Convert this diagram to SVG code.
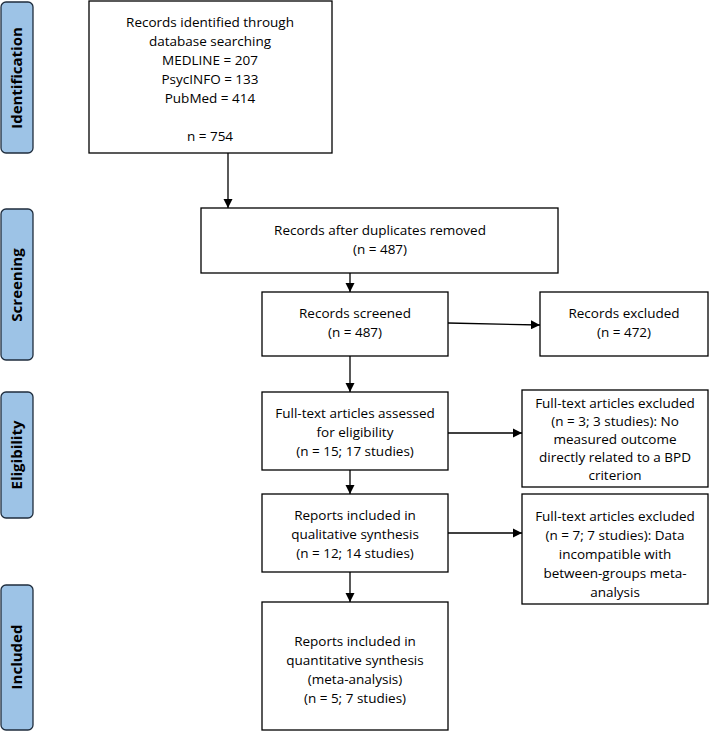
<svg xmlns="http://www.w3.org/2000/svg" width="710" height="732" viewBox="0 0 710 732">
<defs>
<style>
.b{fill:#fff;stroke:#000;stroke-width:1.3}
.s{fill:#9dc3e6;stroke:#1f2d3d;stroke-width:1.3}
text{font-family:"Open Sans","Liberation Sans",sans-serif;font-size:13.5px;fill:#000;text-anchor:middle}
.v{font-weight:bold;font-size:15px}
.c{stroke:#000;stroke-width:1.3;fill:none;marker-end:url(#a)}
</style>
<marker id="a" viewBox="0 0 10 10" refX="10" refY="5" markerWidth="7" markerHeight="7" orient="auto"><path d="M0,0L10,5L0,10z" fill="#000"/></marker>
</defs>
<rect width="710" height="732" fill="#fff"/>
<g id="stage-identification"><rect class="s" x="1" y="2" width="32" height="151" rx="5"/><text class="v" transform="translate(22,78) rotate(-90)">Identification</text></g>
<g id="stage-screening"><rect class="s" x="1" y="209" width="32" height="151" rx="5"/><text class="v" transform="translate(22,285) rotate(-90)">Screening</text></g>
<g id="stage-eligibility"><rect class="s" x="1" y="392" width="32" height="126" rx="5"/><text class="v" transform="translate(22,455) rotate(-90)">Eligibility</text></g>
<g id="stage-included"><rect class="s" x="1" y="585" width="32" height="145" rx="5"/><text class="v" transform="translate(22,657) rotate(-90)">Included</text></g>
<g id="n1"><rect class="b" x="89" y="1" width="243" height="152"/>
<text x="210" y="27">Records identified through</text><text x="210" y="46">database searching</text><text x="210" y="65">MEDLINE = 207</text><text x="210" y="84">PsycINFO = 133</text><text x="210" y="103">PubMed = 414</text><text x="210" y="141">n = 754</text></g>
<g id="n2"><rect class="b" x="201" y="208" width="357" height="65"/><text x="380" y="235">Records after duplicates removed</text><text x="380" y="254">(n = 487)</text></g>
<g id="n3"><rect class="b" x="262" y="292" width="186" height="64"/><text x="355" y="318">Records screened</text><text x="355" y="337">(n = 487)</text></g>
<g id="n3x"><rect class="b" x="540" y="292" width="168" height="64"/><text x="624" y="318">Records excluded</text><text x="624" y="337">(n = 472)</text></g>
<g id="n4"><rect class="b" x="262" y="392" width="186" height="78"/><text x="355" y="418">Full-text articles assessed</text><text x="355" y="437">for eligibility</text><text x="355" y="456">(n = 15; 17 studies)</text></g>
<g id="n4x"><rect class="b" x="522" y="390" width="186" height="97"/><text x="615" y="408">Full-text articles excluded</text><text x="615" y="426">(n = 3; 3 studies): No</text><text x="615" y="444">measured outcome</text><text x="615" y="462">directly related to a BPD</text><text x="615" y="480">criterion</text></g>
<g id="n5"><rect class="b" x="262" y="494" width="186" height="78"/><text x="355" y="520">Reports included in</text><text x="355" y="539">qualitative synthesis</text><text x="355" y="558">(n = 12; 14 studies)</text></g>
<g id="n5x"><rect class="b" x="522" y="494" width="186" height="110"/><text x="615" y="521">Full-text articles excluded</text><text x="615" y="540">(n = 7; 7 studies): Data</text><text x="615" y="559">incompatible with</text><text x="615" y="578">between-groups meta-</text><text x="615" y="597">analysis</text></g>
<g id="n6"><rect class="b" x="262" y="602" width="186" height="128"/><text x="355" y="646">Reports included in</text><text x="355" y="665">quantitative synthesis</text><text x="355" y="684">(meta-analysis)</text><text x="355" y="703">(n = 5; 7 studies)</text></g>
<g id="connectors">
<line class="c" x1="228" y1="153" x2="228" y2="208"/>
<line class="c" x1="350" y1="273" x2="350" y2="292"/>
<line class="c" x1="448" y1="323" x2="540" y2="325"/>
<line class="c" x1="350" y1="356" x2="350" y2="392"/>
<line class="c" x1="448" y1="433" x2="522" y2="433"/>
<line class="c" x1="350" y1="470" x2="350" y2="494"/>
<line class="c" x1="448" y1="533" x2="522" y2="533"/>
<line class="c" x1="350" y1="572" x2="350" y2="602"/>
</g>
</svg>
